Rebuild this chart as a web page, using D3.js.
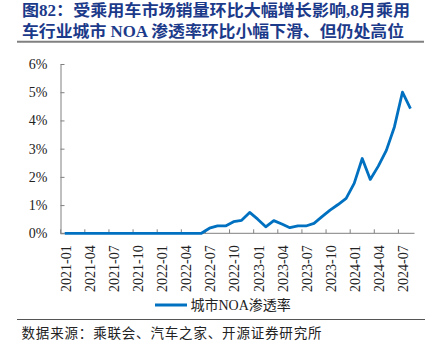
<!DOCTYPE html>
<html><head><meta charset="utf-8">
<script src="https://cdn.jsdelivr.net/npm/d3@7"></script>
<style>
html,body{margin:0;padding:0;background:#fff;}
svg{display:block;}
</style></head>
<body>
<script>
const titleLines = ["图82：受乘用车市场销量环比大幅增长影响,8月乘用", "车行业城市 NOA 渗透率环比小幅下滑、但仍处高位"];
const months = [];
for (let yr = 2021; yr <= 2024; yr++) for (let m = 1; m <= 12; m++) { if (yr === 2024 && m > 8) break; months.push(yr + "-" + String(m).padStart(2, "0")); }
const noaRate = [0,0,0,0,0,0,0,0,0,0,0,0, 0,0,0,0,0,0,
  0.18,0.26,0.26,0.41,0.46,0.74,
  0.50,0.23,0.45,0.33,0.20,0.26,0.26,0.35,0.59,0.82,1.02,1.24,
  1.77,2.65,1.91,2.38,2.94,3.77,5.00,4.42];
const yTicks = [0,1,2,3,4,5,6];
const seriesName = "城市NOA渗透率";
const sourceText = "数据来源：乘联会、汽车之家、开源证券研究所";

const W = 434, H = 349;
const svg = d3.select("body").append("svg").attr("width", W).attr("height", H);
const serif = "'Liberation Serif','Times New Roman','Noto Sans CJK SC',serif";
const titleFont = "'Liberation Serif','Noto Sans CJK SC',serif";

// title
svg.selectAll("text.title").data(titleLines).enter().append("text")
  .attr("x", 22).attr("y", (d, i) => 15.5 + i * 21.5)
  .attr("textLength", (d,i)=> i===0 ? 388 : 382).attr("lengthAdjust","spacingAndGlyphs")
  .style("font-family", titleFont).style("font-weight", "bold").style("font-size", "16px")
  .style("fill", "#1c3a8a").text(d => d);
svg.append("line").attr("x1", 17).attr("x2", 424).attr("y1", 41.8).attr("y2", 41.8)
  .attr("stroke", "#808080").attr("stroke-width", 2);

const x = d3.scaleBand().domain(months).range([60.7, 414.5]).padding(0);
const y = d3.scaleLinear().domain([0, 6]).range([233.3, 64]);

// y axis
const yAxis = svg.append("g").attr("transform", "translate(60.5,0)")
  .call(d3.axisLeft(y).tickValues(yTicks).tickSizeInner(-4).tickSizeOuter(0).tickPadding(13).tickFormat(d => d + "%"));
yAxis.select(".domain").attr("stroke", "#808080");
yAxis.selectAll(".tick line").attr("stroke", "#808080");
yAxis.selectAll("text").style("font-family", serif).style("font-size", "14px").style("fill", "#222");

// x axis
const xg = svg.append("g");
xg.append("line").attr("x1", 60.5).attr("x2", 414.5).attr("y1", y(0)).attr("y2", y(0)).attr("stroke", "#808080");
const tickMonths = months.filter((d, i) => i % 3 === 0);
xg.selectAll("line.tk").data(tickMonths).enter().append("line")
  .attr("x1", d => x(d)).attr("x2", d => x(d)).attr("y1", y(0)).attr("y2", y(0) - 4).attr("stroke", "#808080");
xg.selectAll("text.xl").data(tickMonths).enter().append("text")
  .attr("transform", d => `translate(${x(d) + x.bandwidth()/2 + 1},${y(0) + 12}) rotate(-90)`)
  .attr("text-anchor", "end").attr("dy", "0.35em")
  .style("font-family", serif).style("font-size", "14px").style("fill", "#222").text(d => d);

// line
const line = d3.line().x((d, i) => x(months[i]) + x.bandwidth() / 2).y(d => y(d));
svg.append("path").datum(noaRate).attr("d", line).attr("fill", "none")
  .attr("stroke", "#0070C0").attr("stroke-width", 2.8).attr("stroke-linejoin", "round");

// legend
svg.append("line").attr("x1", 155).attr("x2", 187).attr("y1", 305).attr("y2", 305)
  .attr("stroke", "#0070C0").attr("stroke-width", 3);
svg.append("text").attr("x", 190.5).attr("y", 305).attr("dy", "0.36em")
  .style("font-family", serif).style("font-size", "14px").style("fill", "#222").text(seriesName);

// source
svg.append("line").attr("x1", 17).attr("x2", 425).attr("y1", 319.5).attr("y2", 319.5)
  .attr("stroke", "#555").attr("stroke-width", 1.2);
svg.append("text").attr("x", 21.5).attr("y", 333).attr("dy", "0.36em")
  .attr("textLength", 300).attr("lengthAdjust", "spacing")
  .style("font-family", serif).style("font-size", "13.5px").style("fill", "#222").text(sourceText);
</script>
</body></html>
